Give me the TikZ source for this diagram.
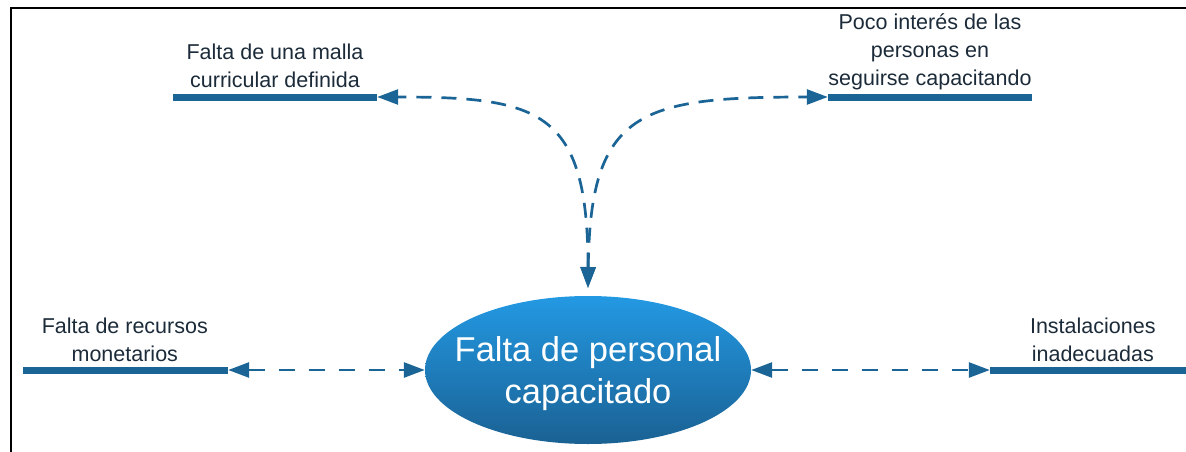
\documentclass[tikz,border=0pt]{standalone}
\usepackage{fontspec}
\setmainfont{Liberation Sans}
\usetikzlibrary{shapes.geometric,arrows.meta,positioning}
\definecolor{barblue}{HTML}{1A6496}
\definecolor{topblue}{HTML}{2399E3}
\definecolor{lowblue}{HTML}{1A6193}
\definecolor{inktext}{HTML}{1C2B39}
\tikzset{
  bar/.style={fill=barblue,inner sep=0pt,minimum height=7pt},
  cause/.style={text=inktext,align=center,font=\fontsize{21.5}{28}\selectfont,inner sep=0pt},
  link/.style={draw=barblue,line width=2.7pt,dash pattern=on 15pt off 10pt,
    arrows={Triangle[length=21pt,width=15pt]-Triangle[length=21pt,width=15pt]}},
}
\begin{document}
\begin{tikzpicture}[x=1pt,y=-1pt]
  \useasboundingbox (0,0) rectangle (1186,452);
  % marco
  \draw[line width=2pt] (11,453) -- (11,8) -- (1187,8);
  % problema central
  \node[ellipse,minimum width=326pt,minimum height=148pt,inner sep=0pt,
    top color=topblue,bottom color=lowblue] (centro) at (588,370) {};
  \node[text=white,align=center,inner sep=0pt,
    font=\fontsize{34.5}{42}\selectfont] (tcentro) at (588,374)
    {Falta de personal\\capacitado};
  \coordinate (tope) at (588,288);
  % causas
  \node[bar,minimum width=204pt] (malla) at (275,97) {};
  \node[bar,minimum width=204pt] (interes) at (930,97) {};
  \node[bar,minimum width=205pt] (recursos) at (125.5,370) {};
  \node[bar,minimum width=197pt] (instal) at (1088.5,370) {};
  \node[cause,above=5pt of malla] (tmalla) {Falta de una malla\\curricular definida};
  \node[cause,above=3pt of interes] (tinteres) {Poco interés de las\\personas en\\seguirse capacitando};
  \node[cause,above=4pt of recursos.north west,xshift=102pt] (trecursos) {Falta de recursos\\monetarios};
  \node[cause,above=4pt of instal.north west,xshift=103pt] (tinstal) {Instalaciones\\inadecuadas};
  % relaciones
  \begin{scope}
    \draw[link] (tope) .. controls (588,110) and (540,97) .. (malla.east);
    \draw[link] (tope) .. controls (590,110) and (640,97) .. (interes.west);
    \draw[link,dash pattern=on 16pt off 14pt] (recursos.east) -- (centro.west);
    \draw[link,dash pattern=on 16pt off 14pt] (centro.east) -- (instal.west);
  \end{scope}
\end{tikzpicture}
\end{document}
